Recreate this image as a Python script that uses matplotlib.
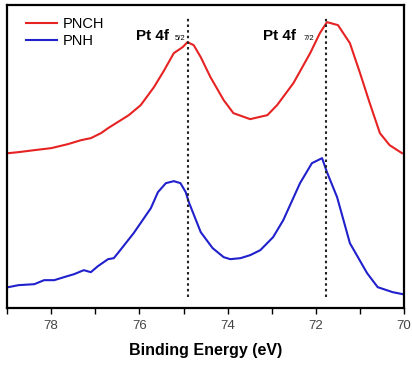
import matplotlib
matplotlib.use('Agg')
import matplotlib.pyplot as plt
from matplotlib.ticker import MultipleLocator

plt.rcParams['font.family'] = ['Liberation Sans', 'DejaVu Sans']

# binding energy (eV) and intensity (a.u.)
pnch_x = [78.97, 78.74, 78.38, 78.00, 77.62, 77.32, 77.10, 76.87, 76.71, 76.42,
          76.24, 75.97, 75.67, 75.45, 75.22, 75.02, 74.91, 74.77, 74.61, 74.39,
          74.09, 73.87, 73.49, 73.10, 72.88, 72.51, 72.13, 71.91, 71.75, 71.50,
          71.23, 71.00, 70.78, 70.55, 70.33, 70.05]
pnch_y = [155, 156, 158, 160, 164, 168, 170, 175, 180, 188,
          193, 203, 221, 237, 255, 261, 266, 263, 251, 231,
          208, 195, 189, 193, 203, 225, 255, 275, 286, 283,
          265, 235, 205, 175, 163, 155]

pnh_x = [78.97, 78.74, 78.38, 78.16, 77.93, 77.71, 77.48, 77.26, 77.10, 76.94,
         76.71, 76.58, 76.47, 76.13, 75.74, 75.58, 75.40, 75.22, 75.07, 74.95,
         74.88, 74.61, 74.34, 74.09, 73.94, 73.71, 73.49, 73.26, 72.97, 72.74,
         72.36, 72.09, 71.86, 71.75, 71.52, 71.23, 70.84, 70.60, 70.26, 70.03]
pnh_y = [21, 23, 24, 28, 28, 31, 34, 38, 36, 42,
         49, 50, 56, 75, 100, 116, 125, 127, 125, 116,
         106, 76, 60, 51, 49, 50, 53, 58, 71, 88,
         125, 145, 150, 136, 111, 65, 35, 21, 16, 14]

peak_pos = [74.9, 71.78]


def main():
    fig = plt.figure(figsize=(4.12, 3.66), dpi=100)
    ax = fig.add_axes([0.017, 0.158, 0.964, 0.828])

    ax.plot(pnch_x, pnch_y, color='#e62222', lw=1.5, label='PNCH')
    ax.plot(pnh_x, pnh_y, color='#2020cc', lw=1.5, label='PNH')

    for p in peak_pos:
        ax.plot([p, p], [11, 290], color='#222222', lw=1.5, ls=(0, (1.2, 1.5)))

    # peak labels with small subscripts
    ax.text(76.08, 268, 'Pt 4f', fontsize=11, fontweight='bold', va='baseline')
    ax.text(75.20, 268, '5/2', fontsize=5.5, va='baseline')
    ax.text(73.19, 268, 'Pt 4f', fontsize=11, fontweight='bold', va='baseline')
    ax.text(72.29, 268, '7/2', fontsize=5.5, va='baseline')

    ax.set_xlim(79, 70)
    ax.set_ylim(0, 303)
    ax.set_yticks([])
    ax.xaxis.set_major_locator(MultipleLocator(2))
    ax.xaxis.set_minor_locator(MultipleLocator(1))
    ax.tick_params(axis='x', which='both', direction='out', length=4, width=1,
                   labelsize=9.5, labelcolor='#444444', pad=4.5)
    ax.set_xlabel('Binding Energy (eV)', fontsize=11.5, fontweight='bold', labelpad=8)
    for s in ax.spines.values():
        s.set_linewidth(1.6)

    ax.legend(loc='upper left', frameon=False, fontsize=10.5, handlelength=2.1,
              handletextpad=0.4, labelspacing=0.23, borderpad=0, borderaxespad=0,
              bbox_to_anchor=(0.048, 0.962))

    fig.savefig('out.png', dpi=100)


if __name__ == '__main__':
    main()
